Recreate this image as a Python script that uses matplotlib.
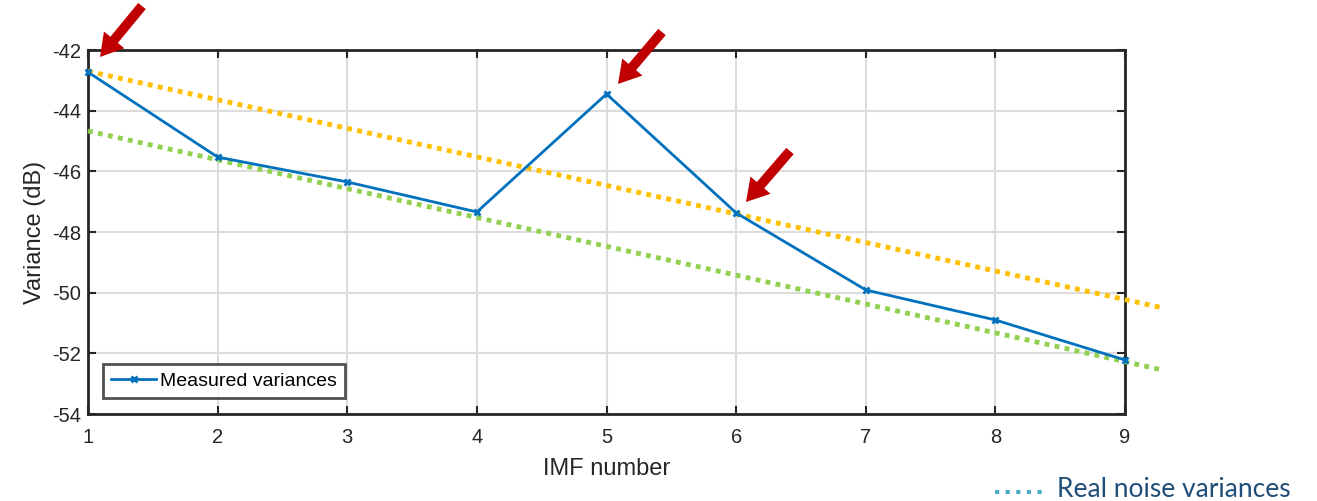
import matplotlib
matplotlib.use("Agg")
import matplotlib.pyplot as plt
from matplotlib.patches import FancyArrowPatch

imf = [1, 2, 3, 4, 5, 6, 7, 8, 9]
measured = [-42.73, -45.53, -46.35, -47.34, -43.45, -47.37, -49.91, -50.90, -52.22]
upper_x = [1, 9.29]
upper_y = [-42.70, -50.50]
lower_x = [1, 9.29]
lower_y = [-44.67, -52.55]
xticks = [1, 2, 3, 4, 5, 6, 7, 8, 9]
yticks = [-54, -52, -50, -48, -46, -44, -42]

plt.rcParams['font.family'] = ['Liberation Sans', 'DejaVu Sans']
plt.rcParams['axes.unicode_minus'] = False

fig = plt.figure(figsize=(13.17, 5.01), dpi=100)
ax = fig.add_axes([88/1317, 87/501, (1125-88)/1317, (414-50)/501])

ax.grid(True, color='#dcdcdc', lw=1.5, zorder=0)
ax.set_axisbelow(True)
ax.plot(upper_x, upper_y, color='#FFC000', lw=3.5, dashes=(1, 1.1),
        dash_capstyle='butt', clip_on=False, zorder=3)
ax.plot(lower_x, lower_y, color='#92D050', lw=3.5, dashes=(1, 1.1),
        dash_capstyle='butt', clip_on=False, zorder=3)
ax.plot(imf, measured, '-', color='#0072BD', lw=2, marker='x', ms=5, mew=2,
        label='Measured variances', zorder=4, clip_on=False)

ax.set_xlim(1, 9)
ax.set_ylim(-54, -42)
ax.set_xticks(xticks)
ax.set_yticks(yticks)
ax.tick_params(direction='in', length=6, width=1.5, top=True, right=True,
               labelsize=14.5, colors='#262626')
ax.tick_params(axis='x', pad=10)
ax.tick_params(axis='y', pad=5)
for s in ax.spines.values():
    s.set_linewidth(2)
    s.set_color('#262626')
ax.set_xlabel('IMF number', fontsize=17, color='#262626', labelpad=8)
ax.set_ylabel('Variance (dB)', fontsize=17, color='#262626', labelpad=4)

leg = ax.legend(loc='lower left', bbox_to_anchor=(15/1037, 16/364), fontsize=14,
                frameon=True, fancybox=False, edgecolor='#262626',
                handlelength=2.3, borderpad=0.42, handletextpad=0.2,
                borderaxespad=0)
leg.get_frame().set_linewidth(2)

# red arrows (figure pixel coords); sizes in points
def arrow(x0, y0, x1, y1):
    a = FancyArrowPatch((x0/1317, 1 - y0/501), (x1/1317, 1 - y1/501),
                        transform=fig.transFigure,
                        arrowstyle='simple,head_width=19,head_length=16,tail_width=7',
                        mutation_scale=1, color='#C00000', lw=0,
                        shrinkA=0, shrinkB=0)
    fig.patches.append(a)

arrow(142, 6, 100, 57)
arrow(662, 32, 618, 84)
arrow(790, 151, 746, 202)

# bottom-right annotation
fig.lines.append(plt.Line2D([995/1317, 1045/1317], [1 - 492/501, 1 - 492/501],
                            transform=fig.transFigure, lw=3, dashes=(1, 1.55),
                            dash_capstyle='butt', color='#4BACC6'))
fig.text(1057/1317, 1 - 497/501, 'Real noise variances', fontsize=19,
         family=['Lato', 'DejaVu Sans'], color='#1F4E79', va='baseline', ha='left')

fig.savefig('out.png', dpi=100)
